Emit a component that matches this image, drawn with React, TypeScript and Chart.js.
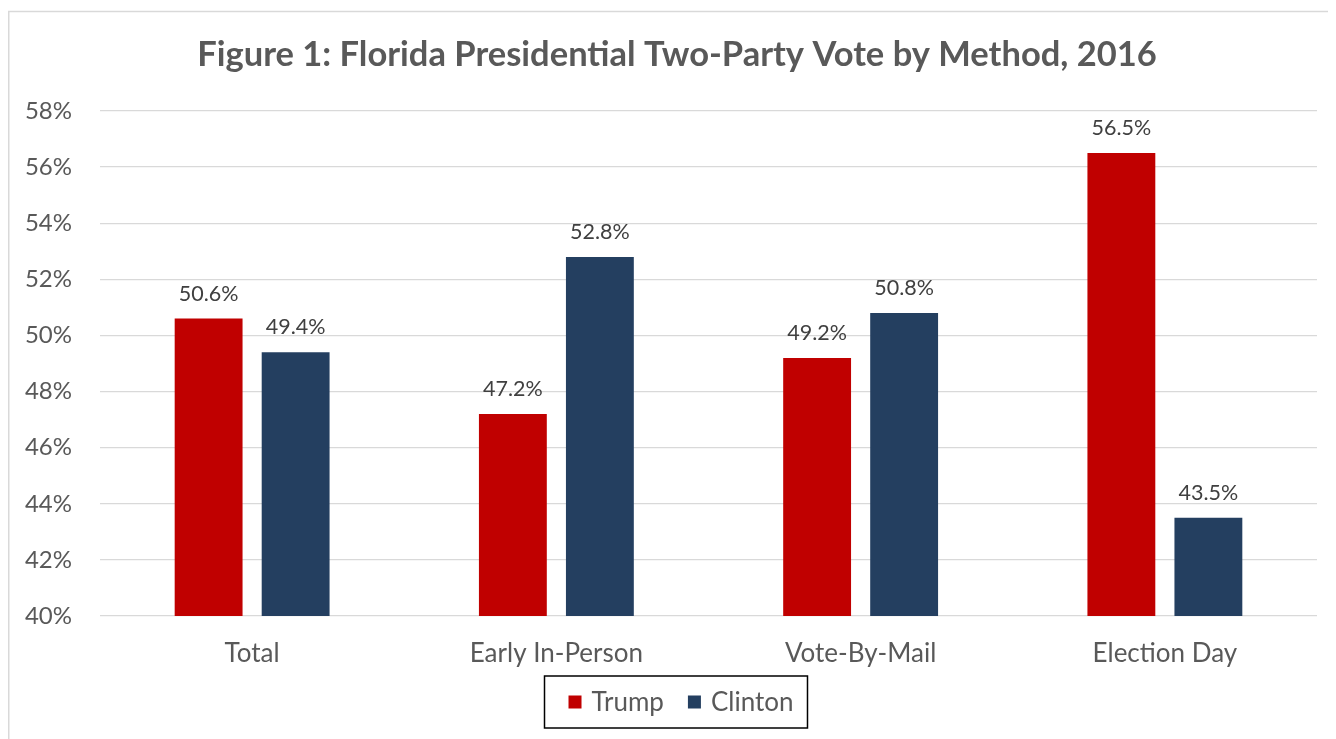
import React, { useEffect, useRef } from "react";
import { Chart, registerables } from "chart.js";

Chart.register(...registerables);

const titleText = "Figure 1: Florida Presidential Two-Party Vote by Method, 2016";
const categories = ["Total", "Early In-Person", "Vote-By-Mail", "Election Day"];
const seriesNames = ["Trump", "Clinton"];
const trumpValues = [50.6, 47.2, 49.2, 56.5];
const clintonValues = [49.4, 52.8, 50.8, 43.5];
const seriesColors = ["#C00000", "#243F60"];
const yMin = 40;
const yMax = 58;
const yStep = 2;

const FONT = "Lato, 'Open Sans', sans-serif";
const W = 1328;
const H = 731;

const framePlugin = {
  id: "frame",
  beforeDraw(chart: any) {
    const ctx = chart.ctx;
    ctx.save();
    ctx.fillStyle = "#ffffff";
    ctx.fillRect(0, 0, chart.width, chart.height);
    ctx.strokeStyle = "#D9D9D9";
    ctx.lineWidth = 1.5;
    ctx.beginPath();
    ctx.moveTo(0.75, chart.height);
    ctx.lineTo(0.75, 3.5);
    ctx.lineTo(chart.width, 3.5);
    ctx.stroke();
    ctx.fillStyle = "#595959";
    ctx.font = `bold 34.5px ${FONT}`;
    ctx.textAlign = "center";
    ctx.textBaseline = "middle";
    ctx.fillText(titleText, chart.width / 2 + 5, 47);
    ctx.restore();
  },
};

const labelPlugin = {
  id: "barLabels",
  afterDatasetsDraw(chart: any) {
    const ctx = chart.ctx;
    ctx.save();
    ctx.font = `21.5px ${FONT}`;
    ctx.fillStyle = "#404040";
    ctx.textAlign = "center";
    ctx.textBaseline = "middle";
    chart.data.datasets.forEach((ds: any, di: number) => {
      const meta = chart.getDatasetMeta(di);
      meta.data.forEach((bar: any, i: number) => {
        const v = ds.data[i];
        ctx.fillText(`${v.toFixed(1)}%`, bar.x, bar.y - 25);
      });
    });
    ctx.restore();
  },
};

const legendPlugin = {
  id: "boxLegend",
  afterDraw(chart: any) {
    const ctx = chart.ctx;
    ctx.save();
    ctx.font = `26px ${FONT}`;
    const sq = 13;
    const gapSqText = 10;
    const itemGap = 24;
    const padL = 24;
    const padR = 14;
    const widths = chart.data.datasets.map((ds: any) => ctx.measureText(ds.label).width);
    const content = widths.reduce((a: number, w: number) => a + sq + gapSqText + w, 0) + itemGap * (widths.length - 1);
    const boxW = content + padL + padR;
    const boxH = 52;
    const cx = chart.width / 2 + 4;
    const top = chart.scales.x.bottom;
    const left = cx - boxW / 2;
    ctx.strokeStyle = "#000000";
    ctx.lineWidth = 1.5;
    ctx.strokeRect(left, top, boxW, boxH);
    let x = left + padL;
    const cy = top + boxH / 2;
    ctx.textBaseline = "middle";
    ctx.textAlign = "left";
    chart.data.datasets.forEach((ds: any, i: number) => {
      ctx.fillStyle = ds.backgroundColor;
      ctx.fillRect(x, cy - sq / 2, sq, sq);
      x += sq + gapSqText;
      ctx.fillStyle = "#595959";
      ctx.fillText(ds.label, x, cy + 1);
      x += widths[i] + itemGap;
    });
    ctx.restore();
  },
};

export default function App() {
  const ref = useRef<HTMLCanvasElement | null>(null);

  useEffect(() => {
    document.documentElement.style.overflow = "hidden";
    const canvas = ref.current;
    if (!canvas) return;
    const chart = new Chart(canvas, {
      type: "bar",
      data: {
        labels: categories,
        datasets: [
          {
            label: seriesNames[0],
            data: trumpValues,
            backgroundColor: seriesColors[0],
            categoryPercentage: 0.572,
            barPercentage: 0.78,
          },
          {
            label: seriesNames[1],
            data: clintonValues,
            backgroundColor: seriesColors[1],
            categoryPercentage: 0.572,
            barPercentage: 0.78,
          },
        ],
      },
      options: {
        responsive: false,
        animation: false,
        layout: { padding: { left: 0, right: 19, top: 103, bottom: 63 } },
        plugins: {
          legend: { display: false },
          tooltip: { enabled: false },
          title: { display: false },
        },
        scales: {
          x: {
            grid: { display: false },
            border: { display: false },
            ticks: {
              color: "#595959",
              font: { family: FONT, size: 26 },
              padding: 14,
            },
            afterFit(scale: any) {
              scale.height = 60;
            },
          },
          y: {
            min: yMin,
            max: yMax,
            grid: { color: "#D9D9D9", lineWidth: 1.3, drawTicks: false },
            border: { display: false },
            ticks: {
              stepSize: yStep,
              color: "#595959",
              font: { family: FONT, size: 24 },
              padding: 28,
              callback: (v: any) => `${v}%`,
            },
            afterFit(scale: any) {
              scale.width = 92;
            },
          },
        },
      },
      plugins: [framePlugin, labelPlugin, legendPlugin],
    });
    return () => chart.destroy();
  }, []);

  return (
    <div style={{ width: W, height: H }}>
      <canvas ref={ref} width={W} height={H} style={{ display: "block" }} />
    </div>
  );
}
